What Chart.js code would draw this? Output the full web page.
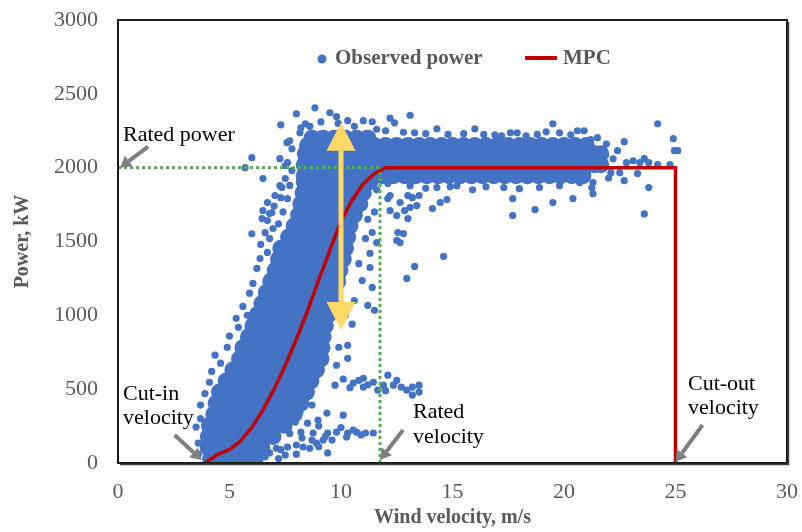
<!DOCTYPE html>
<html>
<head>
<meta charset="utf-8">
<script src="https://cdn.jsdelivr.net/npm/chart.js@4.4.1/dist/chart.umd.min.js"></script>
<style>
  body { margin: 0; background: #fff; }
  canvas { display: block; }
</style>
</head>
<body>
<canvas id="powerChart" width="802" height="532"></canvas>
<script>
// dense body of the observations: power level (kW) -> wind speeds (m/s) seen at that level
const denseLevels = [30, 105, 180, 255, 330, 405, 480, 555, 630, 705, 780, 855, 930, 1005, 1080, 1155,
  1230, 1305, 1380, 1455, 1530, 1605, 1680, 1755, 1830, 1905, 1945, 2020, 2095, 2150, 2200]
const denseWind = [
  [4.15, 4.65, 5.15, 5.65, 6.15],
  [4.05, 4.55, 5.05, 5.55, 6.05, 6.45],
  [4.05, 4.55, 5.05, 5.55, 6.05, 6.5, 6.95],
  [4.1, 4.6, 5.1, 5.6, 6.1, 6.6, 7.05, 7.45],
  [4.3, 4.8, 5.3, 5.8, 6.3, 6.8, 7.3, 7.6, 7.9],
  [4.4, 4.9, 5.4, 5.9, 6.4, 6.9, 7.4, 7.9, 8.2],
  [4.55, 5.05, 5.55, 6.05, 6.55, 7.05, 7.55, 8.05, 8.45],
  [4.85, 5.35, 5.85, 6.35, 6.85, 7.35, 7.85, 8.3, 8.65],
  [5.15, 5.65, 6.15, 6.65, 7.15, 7.65, 8.15, 8.55, 8.9],
  [5.45, 5.95, 6.45, 6.95, 7.45, 7.95, 8.4, 8.75, 9.1],
  [5.6, 6.1, 6.6, 7.1, 7.6, 8.1, 8.6, 9.15],
  [5.85, 6.35, 6.85, 7.35, 7.85, 8.35, 8.8, 9.2],
  [6.05, 6.55, 7.05, 7.55, 8.05, 8.55, 9.0, 9.3],
  [6.25, 6.75, 7.25, 7.75, 8.25, 8.75, 9.15, 9.45],
  [6.45, 6.95, 7.45, 7.95, 8.45, 8.95, 9.3, 9.6],
  [6.65, 7.15, 7.65, 8.15, 8.65, 9.15, 9.45, 9.7],
  [6.85, 7.35, 7.85, 8.35, 8.85, 9.35, 9.85],
  [7.05, 7.55, 8.05, 8.55, 9.05, 9.5, 9.95],
  [7.2, 7.7, 8.2, 8.7, 9.2, 9.65, 10.1],
  [7.3, 7.8, 8.3, 8.8, 9.3, 9.8, 10.2],
  [7.65, 8.15, 8.65, 9.15, 9.65, 10.0, 10.3],
  [7.9, 8.4, 8.9, 9.4, 9.9, 10.4],
  [8.1, 8.6, 9.1, 9.6, 10.1, 10.6],
  [8.2, 8.7, 9.2, 9.7, 10.2, 10.55, 10.85],
  [8.3, 8.8, 9.3, 9.8, 10.3, 10.65, 11.0],
  [8.35, 8.85, 9.35, 9.85, 10.35, 10.85, 11.3],
  [8.35, 8.85, 9.35, 9.85, 10.35, 10.85, 11.35, 11.85, 12.35, 12.85, 13.35, 13.85, 14.35, 14.85,
    15.35, 15.85, 16.35, 16.85, 17.35, 17.85, 18.35, 18.85, 19.35, 19.85, 20.35, 20.85],
  [8.35, 8.85, 9.35, 9.85, 10.35, 10.85, 11.35, 11.85, 12.35, 12.85, 13.35, 13.85, 14.35, 14.85,
    15.35, 15.85, 16.35, 16.85, 17.35, 17.85, 18.35, 18.85, 19.35, 19.85, 20.35, 20.85, 21.35, 21.65],
  [8.4, 8.9, 9.4, 9.9, 10.4, 10.9, 11.4, 11.9, 12.4, 12.9, 13.4, 13.9, 14.4, 14.9,
    15.4, 15.9, 16.4, 16.9, 17.4, 17.9, 18.4, 18.9, 19.4, 19.9, 20.4, 20.9, 21.4, 21.65],
  [8.5, 9.0, 9.5, 10.0, 10.5, 11.0, 11.5, 12.0, 12.5, 13.0, 13.5, 14.0, 14.5, 15.0,
    15.5, 16.0, 16.5, 17.0, 17.5, 18.0, 18.5, 19.0, 19.5, 20.0, 20.5, 21.0],
  [8.7, 9.2, 9.7, 10.2, 10.7, 11.2]
]

// scattered observations around the dense body [wind m/s, power kW]
const looseObs = [
  // left side of the rising band
  [3.6, 60], [3.6, 135], [3.5, 243], [3.7, 300], [3.7, 392], [3.9, 470], [4.1, 547], [4.2, 620],
  [4.6, 676], [4.35, 730], [4.9, 784], [5.0, 860], [5.4, 919], [5.3, 980], [5.6, 1060], [5.8, 1000],
  [5.9, 1150], [6.05, 1216], [6.23, 1318], [6.37, 1385], [6.7, 1426], [6.4, 1480], [6.8, 1520],
  [6.0, 1552], [6.6, 1560], [6.95, 1588], [7.2, 1620], [6.7, 1642], [6.46, 1655], [6.8, 1689],
  [6.9, 1696], [7.4, 1700], [6.5, 1709], [7.0, 1740], [6.7, 1764], [7.6, 1790], [7.3, 1797],
  [7.04, 1811], [7.35, 1865], [7.26, 1878], [7.7, 1880], [7.5, 1926], [6.5, 1926], [7.8, 1980],
  [7.5, 2013], [7.6, 2034], [7.26, 2061], [6.0, 2068], [5.7, 2000], [7.8, 2128], [7.58, 2169],
  [7.7, 2182],
  // upper edge
  [7.3, 2290], [8.0, 2365], [8.2, 2270], [8.16, 2236], [8.4, 2297], [8.6, 2280], [8.83, 2405],
  [9.1, 2310], [9.5, 2372], [9.8, 2345], [9.87, 2300], [10.3, 2318], [10.6, 2280], [11.0, 2318],
  [11.4, 2311], [11.6, 2260], [12.0, 2250], [12.2, 2335], [12.4, 2304], [12.8, 2240], [13.1, 2355],
  [13.3, 2236], [13.8, 2230], [14.3, 2263], [14.8, 2225], [15.5, 2230], [16.0, 2263], [16.4, 2225],
  [16.9, 2223], [17.2, 2215], [17.6, 2236], [17.9, 2236], [18.3, 2216], [18.8, 2225], [19.2, 2243],
  [19.5, 2297], [19.8, 2236], [20.3, 2223], [20.6, 2250], [20.9, 2250], [21.2, 2190], [21.5, 2203],
  // high wind end
  [21.9, 2160], [22.7, 2176], [22.4, 2115], [22.2, 2060], [22.8, 2034], [23.1, 2047], [22.1, 1966],
  [22.5, 1966], [22.7, 1912], [22.0, 1930], [23.4, 2034], [23.6, 2061], [23.8, 2034], [23.3, 1960],
  [23.8, 1865], [23.6, 1687], [24.2, 2020], [24.75, 2020], [24.2, 2297], [24.9, 2196], [24.95, 2115],
  [25.1, 2115],
  // under the plateau
  [11.6, 1850], [12.1, 1892], [12.1, 1791], [12.2, 1811], [12.2, 1709], [12.5, 1676], [12.65, 1764],
  [12.85, 1709], [13.0, 1811], [13.0, 1655], [13.1, 1730], [13.1, 1878], [13.2, 1797], [13.4, 1743],
  [13.5, 1811], [12.8, 1554], [12.55, 1561], [12.65, 1493], [12.5, 1507], [13.8, 1860], [14.1, 1723],
  [14.45, 1764], [14.75, 1784], [14.3, 1865], [14.9, 1870], [15.2, 1878], [15.9, 1850], [16.5, 1870],
  [17.3, 1865], [17.7, 1791], [17.7, 1676], [18.0, 1858], [18.7, 1716], [18.9, 1865], [19.5, 1764],
  [19.8, 1878], [20.4, 1791], [20.7, 1899], [21.3, 1899], [21.3, 1824], [21.25, 1865],
  // right side of the rising band
  [11.1, 1520], [11.4, 1561], [11.6, 1493], [11.3, 1419], [11.3, 1324], [10.95, 1236], [11.4, 1189],
  [11.2, 1068], [11.5, 1034], [12.95, 1250], [13.3, 1331], [14.6, 1399], [10.5, 940], [10.2, 1000],
  [10.6, 1100], [10.8, 1350], [11.2, 1650], [11.5, 1700], [10.3, 797], [10.3, 709], [9.8, 662],
  [9.9, 784], [10.1, 324], [9.37, 338], [8.97, 290], [7.8, 392], [8.16, 345], [8.7, 392],
  // group near 500 kW
  [9.73, 527], [10.1, 568], [10.55, 541], [11.0, 574], [11.0, 514], [11.45, 547], [11.65, 493],
  [11.9, 527], [12.1, 595], [12.35, 527], [12.7, 514], [12.95, 493], [13.2, 514], [13.5, 527],
  [13.5, 480], [13.2, 460], [10.4, 510], [10.8, 560], [12.5, 560], [11.2, 530], [12.0, 490],
  // group near 200 kW
  [7.95, 277], [8.5, 270], [8.2, 209], [8.25, 169], [8.75, 203], [8.7, 155], [8.9, 135], [9.2, 155],
  [9.4, 203], [9.6, 155], [9.8, 209], [10.25, 176], [10.3, 203], [10.55, 223], [10.7, 209],
  [11.1, 203], [11.45, 203], [9.0, 250], [10.0, 240], [10.9, 190], [9.3, 180], [7.6, 108],
  [8.0, 122], [8.3, 108],
  // foot of the band
  [6.6, 41], [6.8, 68], [7.2, 30], [7.5, 54], [7.1, 100], [7.3, 90], [8.0, 60], [8.6, 100],
  [9.0, 110], [9.4, 68], [7.7, 200], [7.0, 150]
]

// manufacturer power curve (MPC)
const mpcWind = [3.9, 4.5, 5.0, 5.5, 6.0, 6.5, 7.0, 7.5, 8.0, 8.5, 9.0, 9.5, 10.0, 10.5, 11.0, 11.5, 12.0, 25, 25]
const mpcPower = [0, 60, 90, 150, 240, 360, 500, 660, 840, 1030, 1240, 1440, 1640, 1780, 1890, 1960, 2000, 2000, 0]

const ratedPower = 2000
const ratedVelocity = 11.75
const cutInVelocity = 3.75
const cutOutVelocity = 25

// power spread shown by the double arrow at 10 m/s
const spreadWind = 10
const spreadPower = [900, 2305]

const xTickValues = [0, 5, 10, 15, 20, 25, 30]
const yTickValues = [0, 500, 1000, 1500, 2000, 2500, 3000]

const blue = '#4472C4'
const red = '#C00000'
const green = '#4FB24F'
const gray = '#595959'

Chart.defaults.font.family = "'Liberation Serif', 'Times New Roman', serif"

const densePoints = []
denseLevels.forEach((p, i) => denseWind[i].forEach(w => densePoints.push({ x: w, y: p })))
const loosePoints = looseObs.map(o => ({ x: o[0], y: o[1] }))
const mpcPoints = mpcWind.map((w, i) => ({ x: w, y: mpcPower[i] }))

const drawArrow = (ctx, x0, y0, x1, y1, color, width, headLen, headW) => {
  const ang = Math.atan2(y1 - y0, x1 - x0)
  const bx = x1 - Math.cos(ang) * headLen
  const by = y1 - Math.sin(ang) * headLen
  ctx.strokeStyle = color
  ctx.fillStyle = color
  ctx.lineWidth = width
  ctx.beginPath()
  ctx.moveTo(x0, y0)
  ctx.lineTo(bx, by)
  ctx.stroke()
  ctx.beginPath()
  ctx.moveTo(x1, y1)
  ctx.lineTo(bx + Math.sin(ang) * headW / 2, by - Math.cos(ang) * headW / 2)
  ctx.lineTo(bx - Math.sin(ang) * headW / 2, by + Math.cos(ang) * headW / 2)
  ctx.closePath()
  ctx.fill()
}

const overlay = {
  id: 'overlay',
  afterDatasetsDraw(chart) {
    const { ctx, chartArea: a, scales: { x, y } } = chart
    ctx.save()

    // spread arrow
    const sx = x.getPixelForValue(spreadWind)
    const top = y.getPixelForValue(spreadPower[1])
    const bot = y.getPixelForValue(spreadPower[0])
    const mid = (top + bot) / 2
    drawArrow(ctx, sx, mid, sx, top, '#FFD966', 5, 28, 29)
    drawArrow(ctx, sx, mid, sx, bot, '#FFD966', 5, 28, 29)

    // pointers to the characteristic values
    const arrowGray = '#7F7F7F'
    let tx = x.getPixelForValue(0) + 2, ty = y.getPixelForValue(ratedPower)
    drawArrow(ctx, tx + 28, ty - 21, tx, ty, arrowGray, 4, 11, 13)
    tx = x.getPixelForValue(cutInVelocity); ty = y.getPixelForValue(0) - 3
    drawArrow(ctx, tx - 27, ty - 25, tx, ty, arrowGray, 4, 11, 13)
    tx = x.getPixelForValue(ratedVelocity); ty = y.getPixelForValue(0) - 3
    drawArrow(ctx, tx + 23, ty - 30, tx, ty, arrowGray, 4, 11, 13)
    tx = x.getPixelForValue(cutOutVelocity); ty = y.getPixelForValue(0) - 1
    drawArrow(ctx, tx + 27, ty - 37, tx, ty, arrowGray, 4, 11, 13)

    ctx.fillStyle = '#000'
    ctx.font = "22px 'Liberation Serif'"
    ctx.textAlign = 'left'
    ctx.textBaseline = 'alphabetic'
    ctx.fillText('Rated power', 123, 141)
    ctx.fillText('Cut-in', 123, 400)
    ctx.fillText('velocity', 123, 424)
    ctx.fillText('Rated', 413, 418)
    ctx.fillText('velocity', 413, 443)
    ctx.fillText('Cut-out', 688, 390)
    ctx.fillText('velocity', 688, 414)

    // legend
    ctx.fillStyle = blue
    ctx.beginPath()
    ctx.arc(322, 59, 4.5, 0, Math.PI * 2)
    ctx.fill()
    ctx.fillStyle = gray
    ctx.font = "bold 21px 'Liberation Serif'"
    ctx.textBaseline = 'middle'
    ctx.fillText('Observed power', 335, 59)
    ctx.fillText('MPC', 563, 59)
    ctx.strokeStyle = red
    ctx.lineWidth = 4
    ctx.beginPath()
    ctx.moveTo(525, 58)
    ctx.lineTo(557, 58)
    ctx.stroke()

    // plot frame
    ctx.strokeStyle = '#1a1a1a'
    ctx.lineWidth = 2
    ctx.strokeRect(a.left, a.top, a.width, a.height)
    ctx.strokeStyle = '#404040'
    ctx.lineWidth = 1.5
    ctx.beginPath()
    ctx.moveTo(a.left + 2, a.bottom + 1.5)
    ctx.lineTo(a.right + 1.5, a.bottom + 1.5)
    ctx.lineTo(a.right + 1.5, a.top + 2)
    ctx.stroke()
    ctx.restore()
  }
}

const tickFont = { size: 22 }
const titleFont = { size: 20, weight: 'bold' }

new Chart(document.getElementById('powerChart'), {
  type: 'scatter',
  data: {
    datasets: [
      {
        label: 'MPC',
        data: mpcPoints,
        showLine: true,
        borderColor: red,
        borderWidth: 3.5,
        pointRadius: 0,
        order: 1
      },
      {
        label: 'rated power',
        data: [{ x: 0, y: ratedPower }, { x: ratedVelocity, y: ratedPower }],
        showLine: true,
        borderColor: green,
        borderWidth: 3,
        borderDash: [3, 3],
        pointRadius: 0,
        order: 2
      },
      {
        label: 'rated velocity',
        data: [{ x: ratedVelocity, y: 0 }, { x: ratedVelocity, y: ratedPower }],
        showLine: true,
        borderColor: green,
        borderWidth: 3,
        borderDash: [3, 3],
        pointRadius: 0,
        order: 2
      },
      {
        label: 'Observed power',
        data: loosePoints,
        pointRadius: 3.6,
        pointHoverRadius: 3.6,
        pointBorderWidth: 0,
        pointBackgroundColor: blue,
        order: 3
      },
      {
        label: 'Observed power (dense)',
        data: densePoints,
        pointRadius: 8.5,
        pointHoverRadius: 8.5,
        pointBorderWidth: 0,
        pointBackgroundColor: blue,
        order: 4
      }
    ]
  },
  options: {
    responsive: false,
    animation: false,
    devicePixelRatio: 1,
    events: [],
    layout: { padding: { top: 20, right: 15, left: 0, bottom: 0 } },
    plugins: { legend: { display: false }, tooltip: { enabled: false } },
    scales: {
      x: {
        type: 'linear',
        min: 0,
        max: 30,
        afterBuildTicks: s => { s.ticks = xTickValues.map(v => ({ value: v })) },
        afterFit: s => { s.height = 69; s.paddingLeft = 0; s.paddingRight = 0 },
        grid: { display: false, drawTicks: false },
        border: { display: false },
        ticks: { font: tickFont, color: gray, padding: 16, maxRotation: 0, callback: v => String(v) },
        title: { display: true, text: 'Wind velocity, m/s', font: titleFont, color: gray, padding: { top: 2, bottom: 2 } }
      },
      y: {
        type: 'linear',
        min: 0,
        max: 3000,
        afterBuildTicks: s => { s.ticks = yTickValues.map(v => ({ value: v })) },
        afterFit: s => { s.width = 118; s.paddingTop = 0; s.paddingBottom = 0 },
        grid: { display: false, drawTicks: false },
        border: { display: false },
        ticks: { font: tickFont, color: gray, padding: 20, callback: v => String(v) },
        title: { display: true, text: 'Power, kW', font: titleFont, color: gray, padding: { top: 11, bottom: 11 } }
      }
    }
  },
  plugins: [overlay]
})
</script>
</body>
</html>
